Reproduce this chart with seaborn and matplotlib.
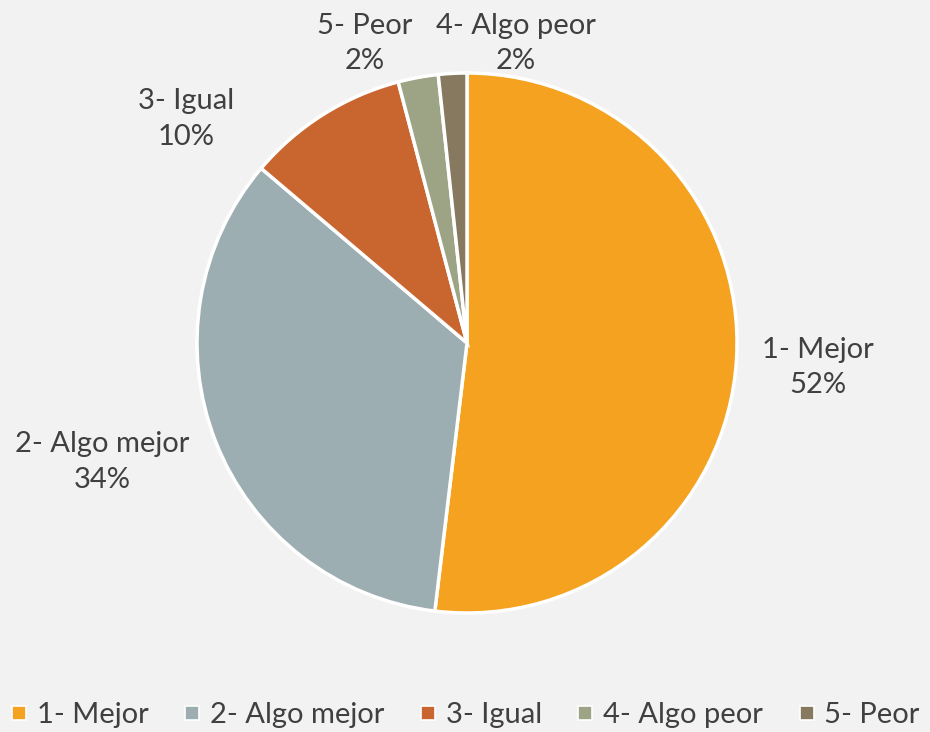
import matplotlib
matplotlib.use("Agg")
import matplotlib.pyplot as plt
from matplotlib.lines import Line2D
import seaborn as sns

# data
categories = ["1- Mejor", "2- Algo mejor", "3- Igual", "4- Algo peor", "5- Peor"]
shares = [51.9, 34.3, 9.7, 2.4, 1.7]
pct_labels = ["52%", "34%", "10%", "2%", "2%"]

colors = ["#F4A21F", "#9DAEB3", "#C96630", "#9CA485", "#877860"]
# label anchors in pie units (radius = 1); the two small slices swap sides as in the original
label_xy = [(1.30, -0.09), (-1.35, -0.44), (-1.04, 0.83), (0.18, 1.11), (-0.38, 1.11)]

sns.set_theme(style="white")
plt.rcParams["font.family"] = ["Lato", "DejaVu Sans"]
text_color = "#404040"
bg = "#F2F2F2"

fig = plt.figure(figsize=(9.3, 7.32), dpi=100, facecolor=bg)
ax = fig.add_axes([(467 - 270) / 930, (732 - 613) / 732, 540 / 930, 540 / 732])
ax.set_facecolor(bg)

palette = sns.color_palette(colors)
wedges, _ = ax.pie(shares, colors=palette, startangle=90, counterclock=False,
                   wedgeprops=dict(edgecolor="white", linewidth=2.5))
ax.set_xlim(-1, 1)
ax.set_ylim(-1, 1)
ax.set_aspect("equal")
ax.axis("off")

for cat, pct, (x, y) in zip(categories, pct_labels, label_xy):
    ax.text(x, y, f"{cat}\n{pct}", ha="center", va="center", fontsize=21,
            color=text_color, linespacing=1.45)

handles = [Line2D([0], [0], marker="s", linestyle="none", markersize=10,
                  markerfacecolor=c, markeredgecolor="white", markeredgewidth=1.2)
           for c in palette]
fig.legend(handles, categories, loc="center", bbox_to_anchor=(0.5, 1 - 715 / 732),
           ncol=5, frameon=False, fontsize=21, labelcolor=text_color,
           handlelength=0.6, handletextpad=0.3, columnspacing=1.2)

fig.savefig("out.png", dpi=100, facecolor=bg)
